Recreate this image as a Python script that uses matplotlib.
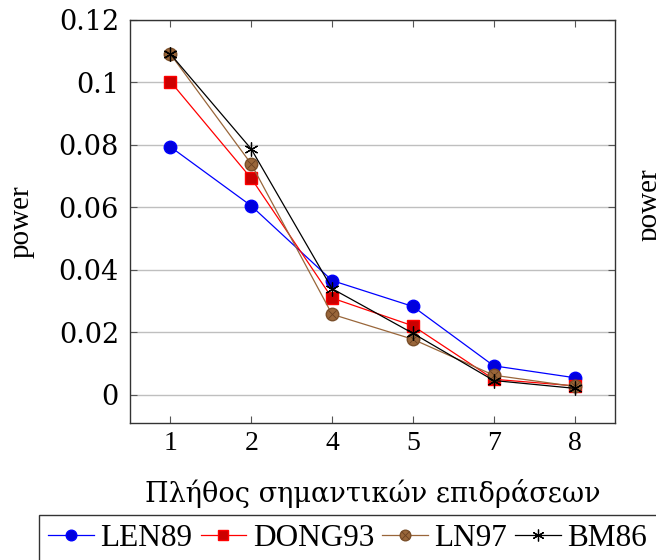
import matplotlib
matplotlib.use("Agg")
import matplotlib.pyplot as plt
from matplotlib.legend_handler import HandlerTuple

plt.rcParams['font.family'] = ['Liberation Serif', 'DejaVu Serif']

categories = ['1', '2', '4', '5', '7', '8']
len89 = [0.0794, 0.0605, 0.0366, 0.0283, 0.0093, 0.0055]
dong93 = [0.1003, 0.0693, 0.0310, 0.0221, 0.0050, 0.0029]
ln97 = [0.1091, 0.0739, 0.0258, 0.0178, 0.0063, 0.0027]
bm86 = [0.1091, 0.0787, 0.0340, 0.0197, 0.0046, 0.0021]
y_ticks = [0, 0.02, 0.04, 0.06, 0.08, 0.1, 0.12]
y_tick_labels = ['0', '0.02', '0.04', '0.06', '0.08', '0.1', '0.12']

fig = plt.figure(figsize=(6.56, 5.6), dpi=100)
ax = fig.add_axes([130/656, 1-423/560, 485/656, 403/560])

x = list(range(len(categories)))
brown = '#99663a'

h1, = ax.plot(x, len89, color='blue', lw=0.9, marker='o', ms=9,
              mfc='#0000dd', mec='blue', zorder=3)
h2, = ax.plot(x, dong93, color='red', lw=0.9, marker='s', ms=9,
              mfc='#cc0000', mec='red', zorder=3)
h3, = ax.plot(x, ln97, color=brown, lw=0.9, marker='o', ms=9,
              mfc=brown, mec='#7a4f2a', zorder=3)
h3x, = ax.plot(x, ln97, ls='none', marker='x', ms=6, mew=0.6,
               color='#6a4020', zorder=4)
h4, = ax.plot(x, bm86, color='black', lw=0.9, marker=(6, 2, 0), ms=10,
              mew=0.9, zorder=5)

ax.set_xlim(-0.5, 5.5)
ax.set_ylim(-0.009, 0.12)
ax.set_xticks(x)
ax.set_xticklabels(categories, fontsize=20)
ax.set_yticks(y_ticks)
ax.set_yticklabels(y_tick_labels, fontsize=19.5, family='DejaVu Serif')
ax.yaxis.grid(True, color='#bfbfbf', lw=1.0)
ax.set_axisbelow(True)
ax.tick_params(direction='in', top=True, right=True, length=5,
               width=0.8, color='#555555')
ax.tick_params(axis='x', pad=6)
ax.tick_params(axis='y', pad=8)
for s in ax.spines.values():
    s.set_linewidth(1.0)
    s.set_color('#333333')

ax.set_xlabel('Πλήθος σημαντικών επιδράσεων', fontsize=19.5,
              family='DejaVu Serif', va='center')
ax.xaxis.set_label_coords(0.5, (423 - 493) / 403)

fig.text(22/656, 1-222/560, 'power', rotation=90, fontsize=21,
         ha='center', va='center')
# neighbouring panel's axis label, partly beyond the right edge
fig.text(637/656, 1-205/560, 'power', rotation=90, fontsize=21,
         ha='left', va='center')

leg = fig.legend([h1, h2, (h3, h3x), h4], ['LEN89', 'DONG93', 'LN97', 'BM86'],
                 handler_map={tuple: HandlerTuple(ndivide=1, pad=0)},
                 loc='upper left', bbox_to_anchor=(39/656, 1-515/560),
                 ncol=4, fontsize=22.5, frameon=True, fancybox=False,
                 handlelength=1.45, handletextpad=0.22, columnspacing=0.26,
                 borderpad=0.3, borderaxespad=0, markerscale=0.85)
leg.get_frame().set_edgecolor('black')
leg.get_frame().set_linewidth(1.0)

fig.savefig('out.png', dpi=100)
